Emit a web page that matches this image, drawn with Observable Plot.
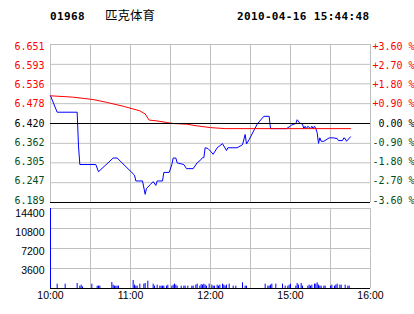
<!DOCTYPE html>
<html><head><meta charset="utf-8">
<script src="https://cdn.jsdelivr.net/npm/d3@7"></script>
<script src="https://cdn.jsdelivr.net/npm/@observablehq/plot@0.6"></script>
<style>
html,body{margin:0;padding:0;background:#fff;width:414px;height:314px;overflow:hidden}
#root{position:relative;width:414px;height:314px}
#root > svg{position:absolute;left:0}
</style></head><body><div id="root"></div>
<script>
const stockCode = "01968";
const stockName = "匹克体育";
const stamp = "2010-04-16 15:44:48";
const prevClose = 6.420;
const priceTicks = [6.189, 6.247, 6.305, 6.362, 6.420, 6.478, 6.536, 6.593, 6.651];
const pctLabels = ["-3.60 %", "-2.70 %", "-1.80 %", "-0.90 %", " 0.00 %", "+0.90 %", "+1.80 %", "+2.70 %", "+3.60 %"];
const gridTimes = ["10:00", "10:30", "11:00", "11:30", "12:00", "14:30", "15:00", "15:30", "16:00"];
const labelTimes = ["10:00", "11:00", "12:00", "15:00", "16:00"];
const volTicks = [3600, 7200, 10800, 14400];

const priceTimes = ["10:00","10:05","10:20","10:21","10:22","10:34","10:36","10:47","10:50","11:03","11:04","11:09","11:11","11:12","11:15","11:17","11:19","11:20","11:24","11:25","11:29","11:31","11:32","11:34","11:35","11:40","11:42","11:47","11:50","11:52","11:54","11:55","11:56","11:58","12:00","12:02","12:05","12:09","12:12","12:13","12:20","12:24","12:26","12:27","12:29","14:35","14:40","14:44","14:45","14:57","14:59","15:01","15:04","15:05","15:07","15:09","15:10","15:11","15:12","15:13","15:15","15:16","15:17","15:18","15:19","15:20","15:21","15:22","15:23","15:25","15:29","15:32","15:35","15:36","15:39","15:40","15:41","15:42","15:45"];
const priceValues = [6.501,6.453,6.453,6.354,6.300,6.300,6.279,6.319,6.319,6.269,6.252,6.252,6.213,6.230,6.242,6.250,6.239,6.252,6.252,6.277,6.277,6.300,6.319,6.319,6.305,6.300,6.288,6.288,6.305,6.311,6.320,6.320,6.349,6.347,6.339,6.330,6.349,6.361,6.341,6.349,6.349,6.358,6.388,6.360,6.373,6.418,6.441,6.441,6.405,6.405,6.410,6.416,6.420,6.431,6.421,6.418,6.405,6.412,6.405,6.412,6.405,6.412,6.405,6.412,6.405,6.393,6.362,6.378,6.368,6.368,6.378,6.378,6.376,6.370,6.370,6.378,6.376,6.368,6.381];

const avgTimes = ["10:00","10:17","10:32","10:42","10:55","11:07","11:11","11:14","11:19","11:27","11:32","11:42","11:50","12:00","12:11","15:45"];
const avgValues = [6.501,6.497,6.490,6.482,6.470,6.457,6.448,6.430,6.428,6.423,6.420,6.418,6.413,6.408,6.405,6.405];

const volTimes = ["10:00","10:05","10:11","10:20","10:22","10:23","10:24","10:31","10:35","10:36","10:37","10:46","10:47","10:48","10:49","10:50","10:51","11:02","11:03","11:04","11:05","11:07","11:10","11:11","11:13","11:17","11:18","11:20","11:22","11:23","11:24","11:25","11:27","11:28","11:31","11:32","11:33","11:34","11:35","11:38","11:40","11:41","11:43","11:46","11:47","11:49","11:50","11:52","11:53","11:54","11:55","11:56","11:57","11:59","12:01","12:02","12:03","12:05","12:06","12:07","12:09","12:10","12:11","12:12","12:14","12:17","12:19","12:24","12:26","12:27","14:41","14:43","14:44","14:45","14:46","14:49","14:54","14:56","14:58","14:59","15:00","15:04","15:05","15:06","15:08","15:09","15:13","15:14","15:15","15:16","15:18","15:19","15:20","15:21","15:22","15:23","15:25","15:26","15:30","15:31","15:33","15:34","15:35","15:37","15:38","15:41","15:43","15:44"];
const volValues = [14400,780,780,900,420,600,300,780,420,420,420,1080,600,420,420,420,420,1440,600,420,420,780,780,900,1320,780,420,600,420,420,420,420,420,600,420,600,780,600,420,420,420,420,420,420,420,600,780,420,700,600,780,600,420,780,600,420,420,600,420,600,780,600,420,600,780,420,420,1020,420,420,780,420,420,600,780,780,780,420,420,600,780,420,900,600,900,420,420,600,420,600,780,780,1020,600,420,420,420,420,420,600,420,600,780,600,600,600,420,420];

function toIdx(t) {
  const [h, m] = t.split(":").map(Number);
  const v = h * 60 + m;
  return v <= 750 ? v - 600 : v - 870 + 150;
}
const priceData = priceTimes.map((t, i) => ({i: toIdx(t), p: priceValues[i]}));
const avgData = avgTimes.map((t, i) => ({i: toIdx(t), p: avgValues[i]}));
const volData = volTimes.map((t, i) => ({i: toIdx(t), v: volValues[i]}));
const gridIdx = gridTimes.map(toIdx);

const RED = "#ff0000", GREEN = "#004d1a", GRID = "#c0c0c0", BLUE = "#0000ff";
const MONO = "DejaVu Sans Mono, monospace";
const SANS = "Liberation Sans, Arial, sans-serif";
const root = document.getElementById("root");

// header
const ns = "http://www.w3.org/2000/svg";
const head = document.createElementNS(ns, "svg");
head.setAttribute("width", 414); head.setAttribute("height", 30);
head.style.top = "0px";
function addText(txt, x, y, anchor, family, size, weight, ls) {
  const t = document.createElementNS(ns, "text");
  t.setAttribute("x", x); t.setAttribute("y", y);
  t.setAttribute("text-anchor", anchor);
  t.setAttribute("font-family", family);
  t.setAttribute("font-size", size);
  t.setAttribute("font-weight", weight);
  if (ls) t.setAttribute("letter-spacing", ls);
  t.setAttribute("fill", "#000");
  t.textContent = txt;
  head.appendChild(t);
}
addText(stockCode, 50, 20, "start", MONO, 11, "bold", 0.35);
addText(stockName, 105, 20, "start", "Noto Sans CJK SC, sans-serif", 12.5, "normal");
addText(stamp, 237, 20, "start", MONO, 11, "bold", 0.35);
root.appendChild(head);

const colorOf = d => d > prevClose ? RED : d < prevClose ? GREEN : "#000";
const shiftOf = d => 1.2 + 2.2 * (prevClose - d) / (prevClose - priceTicks[0]) * -1 + 0; // +2 at top, -1 at bottom
const labelMarks = priceTicks.flatMap((d, k) => {
  const dy = (d - prevClose) / (priceTicks[8] - prevClose) * 2;
  return [
    Plot.text([d], {y: v => v, text: v => v.toFixed(3), frameAnchor: "left", textAnchor: "end", dx: -6, dy, fill: colorOf(d), fontFamily: MONO, fontSize: 10}),
    Plot.text([d], {y: v => v, text: () => pctLabels[k], frameAnchor: "right", textAnchor: "start", dx: 2, dy, fill: colorOf(d), fontFamily: MONO, fontSize: 10})
  ];
});

const price = Plot.plot({
  width: 414, height: 206, marginLeft: 50, marginRight: 44, marginTop: 44, marginBottom: 4,
  x: {domain: [0, 240], axis: null},
  y: {domain: [priceTicks[0], priceTicks[priceTicks.length - 1]], axis: null},
  style: {background: "transparent", overflow: "visible"},
  marks: [
    Plot.ruleY(priceTicks.slice(1).filter(d => d !== prevClose), {stroke: GRID}),
    Plot.ruleX(gridIdx, {stroke: GRID}),
    Plot.line(priceData, {x: "i", y: "p", stroke: BLUE, strokeWidth: 1}),
    Plot.line(avgData, {x: "i", y: "p", stroke: RED, strokeWidth: 1}),
    Plot.ruleY([prevClose], {stroke: "#000"}),
    Plot.ruleY([priceTicks[0]], {stroke: "#000"}),
    ...labelMarks
  ]
});
price.style.top = "0px";
price.querySelectorAll("text").forEach(t => t.setAttribute("xml:space", "preserve"));
price.style.whiteSpace = "pre";
root.appendChild(price);

const volLabelMarks = volTicks.map((d, k) =>
  Plot.text([d], {y: v => v, text: v => String(v), frameAnchor: "left", textAnchor: "end", dx: -6, dy: 2 + k, fill: "#000", fontFamily: SANS, fontSize: 10.5})
);

const vol = Plot.plot({
  width: 414, height: 114, marginLeft: 50, marginRight: 44, marginTop: 8, marginBottom: 26,
  x: {domain: [0, 240], axis: null},
  y: {domain: [0, 14400], axis: null},
  style: {background: "transparent", overflow: "visible"},
  marks: [
    Plot.ruleY(volTicks, {stroke: GRID}),
    Plot.ruleX(gridIdx, {stroke: GRID}),
    Plot.ruleX(volData, {x: "i", y1: 0, y2: "v", stroke: BLUE, strokeWidth: 1}),
    Plot.ruleY([0], {stroke: "#000"}),
    ...volLabelMarks,
    Plot.text(labelTimes, {x: toIdx, text: d => d, frameAnchor: "bottom", dy: 10, fill: "#000", fontFamily: SANS, fontSize: 10.5})
  ]
});
vol.style.top = "200px";
root.appendChild(vol);
</script>
</body></html>
